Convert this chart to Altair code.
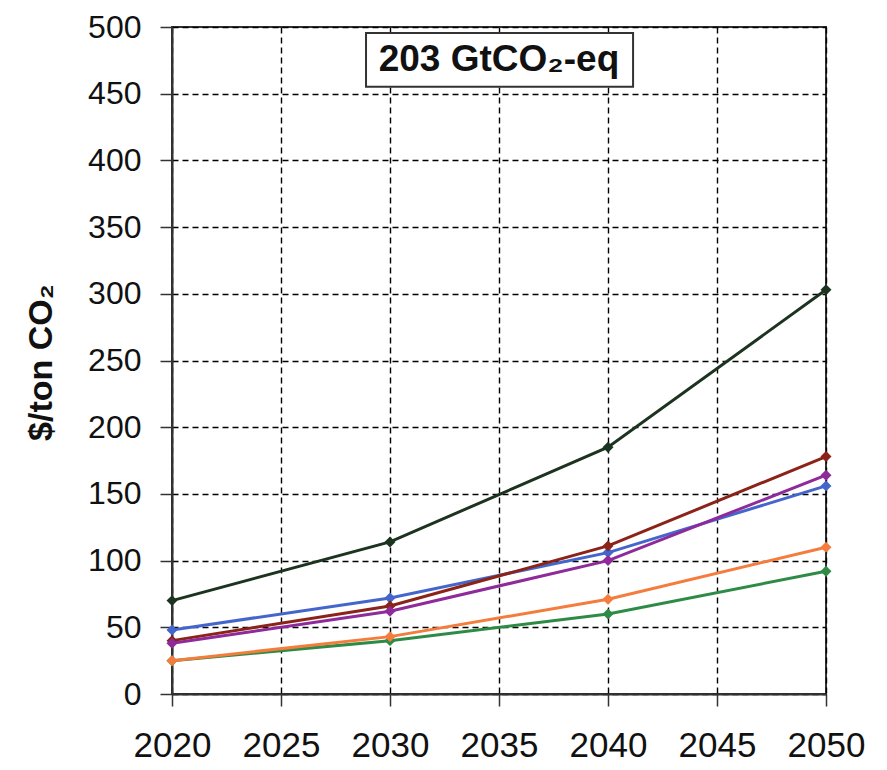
import altair as alt
import pandas as pd

years = [2020, 2030, 2040, 2050]
series_names = ["green", "orange", "blue", "brown", "purple", "black"]
series_values = {
    "green":  [25, 40, 60, 92],
    "orange": [25, 43, 71, 110],
    "blue":   [48, 72, 106, 156],
    "brown":  [40, 66, 111, 178],
    "purple": [38, 62, 100, 164],
    "black":  [70, 114, 185, 303],
}
series_colors = {
    "green": "#2e8b46",
    "orange": "#f47c3c",
    "blue": "#4466cc",
    "brown": "#8b2318",
    "purple": "#8e2a9a",
    "black": "#1c3320",
}
x_ticks = [2020, 2025, 2030, 2035, 2040, 2045, 2050]
y_ticks = [0, 50, 100, 150, 200, 250, 300, 350, 400, 450, 500]
box_label = "203 GtCO₂-eq"
box_extent = {"x": 2028.9, "x2": 2041.15, "y": 495.5, "y2": 455.3, "tx": 2035, "ty": 475.5}

FONT = "Liberation Sans"

xscale = alt.Scale(domain=[2020, 2050], nice=False, zero=False)
yscale = alt.Scale(domain=[0, 500], nice=False)

xaxis = alt.Axis(values=x_ticks, format="d", title=None, grid=True,
                 gridDash=[6, 4], gridColor="#000000", gridWidth=1.4, gridOpacity=1,
                 tickSize=12, tickColor="#333333", tickWidth=1.5,
                 domainColor="#333333", domainWidth=2,
                 labelFontSize=35, labelFont=FONT, labelColor="#111111",
                 labelPadding=22, labelFlush=False, labelOverlap=False)
yaxis = alt.Axis(values=y_ticks, title="$/ton CO₂", grid=True,
                 gridDash=[6, 4], gridColor="#000000", gridWidth=1.4, gridOpacity=1,
                 tickSize=12, tickColor="#333333", tickWidth=1.5,
                 domainColor="#333333", domainWidth=2,
                 labelFontSize=32, labelFont=FONT, labelColor="#111111",
                 labelPadding=19, labelFlush=False, labelOverlap=False,
                 titleFont=FONT, titleFontSize=34, titleFontWeight="bold",
                 titleColor="#111111", titleAngle=270, titleX=-114, titleY=335,
                 titleAlign="center", titleBaseline="bottom")

enc_x = alt.X("year:Q", scale=xscale, axis=xaxis)
enc_y = alt.Y("value:Q", scale=yscale, axis=yaxis)

layers = []
for name in series_names:
    df = pd.DataFrame({"year": years, "value": series_values[name]})
    layer = alt.Chart(df).mark_line(
        color=series_colors[name], strokeWidth=3,
        point=alt.OverlayMarkDef(shape="diamond", size=120, filled=True,
                                 color=series_colors[name])
    ).encode(x=enc_x, y=enc_y)
    layers.append(layer)

box_df = pd.DataFrame([box_extent])
box = alt.Chart(box_df).mark_rect(fill="white", stroke="#333333", strokeWidth=2).encode(
    x=alt.X("x:Q", scale=xscale, axis=xaxis), x2="x2:Q",
    y=alt.Y("y:Q", scale=yscale, axis=yaxis), y2="y2:Q")
box_text = alt.Chart(box_df).mark_text(
    text=box_label, font=FONT, fontSize=37, fontWeight="bold", color="#111111",
    align="center", baseline="middle").encode(
    x=alt.X("tx:Q", scale=xscale, axis=xaxis), y=alt.Y("ty:Q", scale=yscale, axis=yaxis))

chart = alt.layer(*layers, box, box_text).properties(
    width=654, height=667,
    autosize=alt.AutoSizeParams(type="none"),
    padding={"left": 164, "top": 19, "right": 50, "bottom": 70},
    background="white",
).configure_view(stroke="#333333", strokeWidth=2)

chart.save("out.html", embed_options={"renderer": "svg", "actions": False})
